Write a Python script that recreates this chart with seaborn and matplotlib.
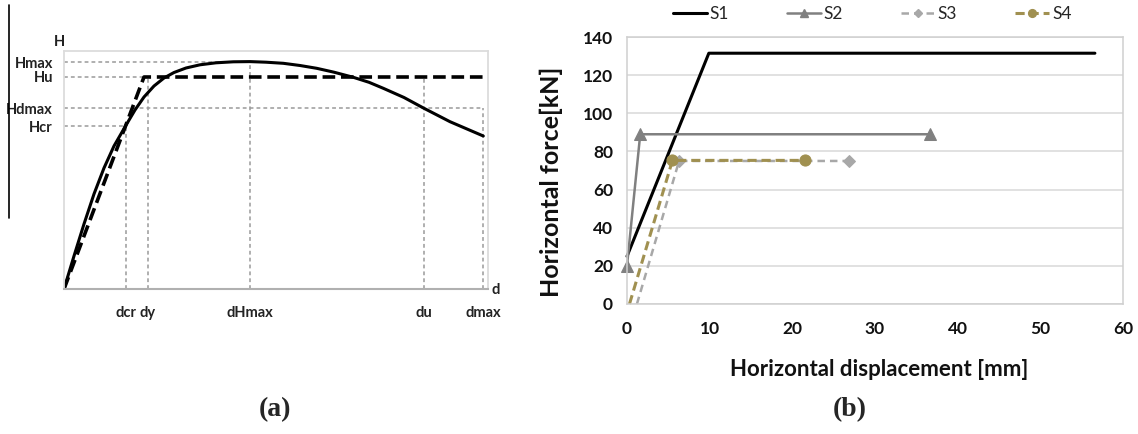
import matplotlib
matplotlib.use("Agg")
import matplotlib.pyplot as plt
from matplotlib.lines import Line2D
import pandas as pd
import seaborn as sns

sns.set_theme(style="white")
plt.rcParams['font.family'] = ['Lato', 'DejaVu Sans']

# ---------------- Panel (a): schematic capacity curve ----------------
curve_d = [0, 10, 20, 30, 40, 50, 61.7, 71, 80, 90, 100, 110, 122, 136, 152, 169.3, 186,
           202, 219.3, 236, 252.7, 270, 289.3, 305, 319.3, 340, 360, 386, 419.3]
curve_H = [0, 33, 65, 95, 121, 143, 163.3, 179, 192, 203, 211, 216.5, 221, 224.2, 226.2, 227.2, 227.4,
           226.8, 225.7, 223.5, 220.7, 216.8, 211.7, 206.7, 200.7, 191.5, 180.7, 167.3, 153]
bilin_d = [0, 80, 419]
bilin_H = [0, 212, 212]
h_labels = ['Hmax', 'Hu', 'Hdmax', 'Hcr']
h_values = [227, 212, 181, 163]
d_labels = ['dcr', 'dy', 'dHmax', 'du', 'dmax']
d_values = [62, 84, 186, 360, 419]

# ---------------- Panel (b): bilinear idealisations ----------------
S1_x = [0, 9.9, 56.6]
S1_y = [25, 131.5, 131.5]
S2_x = [0, 1.6, 36.7]
S2_y = [20, 89, 89]
S3_x = [1.2, 6.3, 26.8]
S3_y = [0, 75, 75]
S4_x = [0.3, 5.5, 21.5]
S4_y = [0, 75.3, 75.3]
x_ticks = [0, 10, 20, 30, 40, 50, 60]
y_ticks = [0, 20, 40, 60, 80, 100, 120, 140]

W, H = 1138, 434
fig = plt.figure(figsize=(W / 100, H / 100), dpi=100)

# ---------- (a) ----------
axa = fig.add_axes([64 / W, 1 - 289 / H, 424 / W, 238 / H])
axa.set_xlim(0, 424)
axa.set_ylim(0, 238)
ref_kw = dict(color='#9a9a9a', lw=1.1, ls=(0, (2.5, 2)))
# horizontal reference lines (end at matching displacement)
h_ends = [d_values[2], bilin_d[1], d_values[4], d_values[0]]
for hv, he in zip(h_values, h_ends):
    axa.plot([0, he], [hv, hv], **ref_kw)
# vertical reference lines (top at matching force)
v_tops = [h_values[3], h_values[1], h_values[0], h_values[1], h_values[2]]
for dv, vt in zip(d_values, v_tops):
    axa.plot([dv, dv], [0, vt], **ref_kw)
df_c = pd.DataFrame({'d': curve_d, 'H': curve_H})
sns.lineplot(data=df_c, x='d', y='H', ax=axa, color='black', lw=2.2, sort=False)
df_b = pd.DataFrame({'d': bilin_d, 'H': bilin_H})
sns.lineplot(data=df_b, x='d', y='H', ax=axa, color='black', lw=2.6, sort=False)
axa.lines[-1].set_linestyle((0, (3.5, 1.6)))
axa.set_xlabel('')
axa.set_ylabel('')
axa.set_yticks(h_values, h_labels)
axa.set_xticks(d_values, d_labels)
axa.tick_params(axis='y', length=0, pad=8, labelsize=10.5, labelcolor='#222222')
axa.tick_params(axis='x', length=0, pad=12, labelsize=10.5, labelcolor='#222222')
for lab in axa.get_xticklabels() + axa.get_yticklabels():
    lab.set_fontweight('bold')
for s in ['left', 'top', 'right']:
    axa.spines[s].set_color('#dcdcdc')
    axa.spines[s].set_linewidth(1.3)
axa.spines['bottom'].set_color('#b0b0b0')
axa.spines['bottom'].set_linewidth(1.5)
fig.text(59 / W, 1 - 42 / H, 'H', ha='center', va='center', fontsize=10.5,
         fontweight='bold', color='#222222')
fig.text(496 / W, 1 - 290 / H, 'd', ha='center', va='center', fontsize=10.5,
         fontweight='bold', color='#222222')
fig.add_artist(Line2D([9 / W, 9 / W], [1 - 5 / H, 1 - 218 / H], color='black', lw=1.2))

# ---------- (b) ----------
axb = fig.add_axes([627 / W, 1 - 304 / H, 496 / W, 267 / H])
series = [
    ('S1', S1_x, S1_y, dict(color='black', lw=2.2, ls='-', marker=None)),
    ('S2', S2_x, S2_y, dict(color='#808080', lw=1.8, ls='-', marker='^', ms=8)),
    ('S3', S3_x, S3_y, dict(color='#a8a8a8', lw=1.8, ls=(0, (3, 2)), marker='D', ms=6)),
    ('S4', S4_x, S4_y, dict(color='#a09050', lw=2.2, ls=(0, (3, 1.6)), marker='o', ms=8)),
]
handles = []
for name, xs, ys, st in series:
    df = pd.DataFrame({'x': xs, 'y': ys})
    sns.lineplot(data=df, x='x', y='y', ax=axb, sort=False, color=st['color'], lw=st['lw'])
    ln = axb.lines[-1]
    ln.set_linestyle(st['ls'])
    ln.set_clip_on(False)
    if st['marker']:
        ln.set_marker(st['marker'])
        ln.set_markersize(st['ms'])
        ln.set_markerfacecolor(st['color'])
        ln.set_markeredgecolor(st['color'])
        if name in ('S3', 'S4'):
            ln.set_markevery([1, 2])
    handles.append(Line2D([], [], color=st['color'], lw=st['lw'], ls=st['ls'],
                          marker=st['marker'], ms=(st.get('ms', 0) * 0.7)))
axb.set_xlim(0, 60)
axb.set_ylim(0, 140)
axb.set_xticks(x_ticks)
axb.set_yticks(y_ticks)
axb.yaxis.grid(True, color='#d9d9d9', lw=1.1)
axb.xaxis.grid(False)
for s in axb.spines.values():
    s.set_color('#d0d0d0')
    s.set_linewidth(1.1)
axb.tick_params(axis='both', direction='out', length=5, color='#c8c8c8', width=1,
                labelsize=12.5, labelcolor='#111111')
axb.tick_params(axis='x', pad=7)
axb.tick_params(axis='y', pad=5)
for lab in axb.get_xticklabels() + axb.get_yticklabels():
    lab.set_fontweight('bold')
axb.set_xlabel('Horizontal displacement [mm]', fontsize=16, fontweight='bold',
               color='#111111')
axb.set_ylabel('Horizontal force[kN]', fontsize=18, fontweight='bold',
               color='#111111')
axb.xaxis.label.set_va('center')
axb.yaxis.label.set_va('center')
axb.xaxis.set_label_coords((879 - 627) / 496, (304 - 370) / 267)
axb.yaxis.set_label_coords((551 - 627) / 496, (304 - 182) / 267)
fig.legend(handles, ['S1', 'S2', 'S3', 'S4'], loc='center', ncol=4,
           bbox_to_anchor=(872 / W, 1 - 14 / H), frameon=False, fontsize=12.5,
           handlelength=2.0, handletextpad=0.15, columnspacing=3.3)

# captions
fig.text(275 / W, 1 - 410 / H, '(a)', ha='center', va='center', fontsize=20,
         fontweight='bold', family='Liberation Serif')
fig.text(850 / W, 1 - 410 / H, '(b)', ha='center', va='center', fontsize=20,
         fontweight='bold', family='Liberation Serif')

fig.savefig('out.png', dpi=100)
